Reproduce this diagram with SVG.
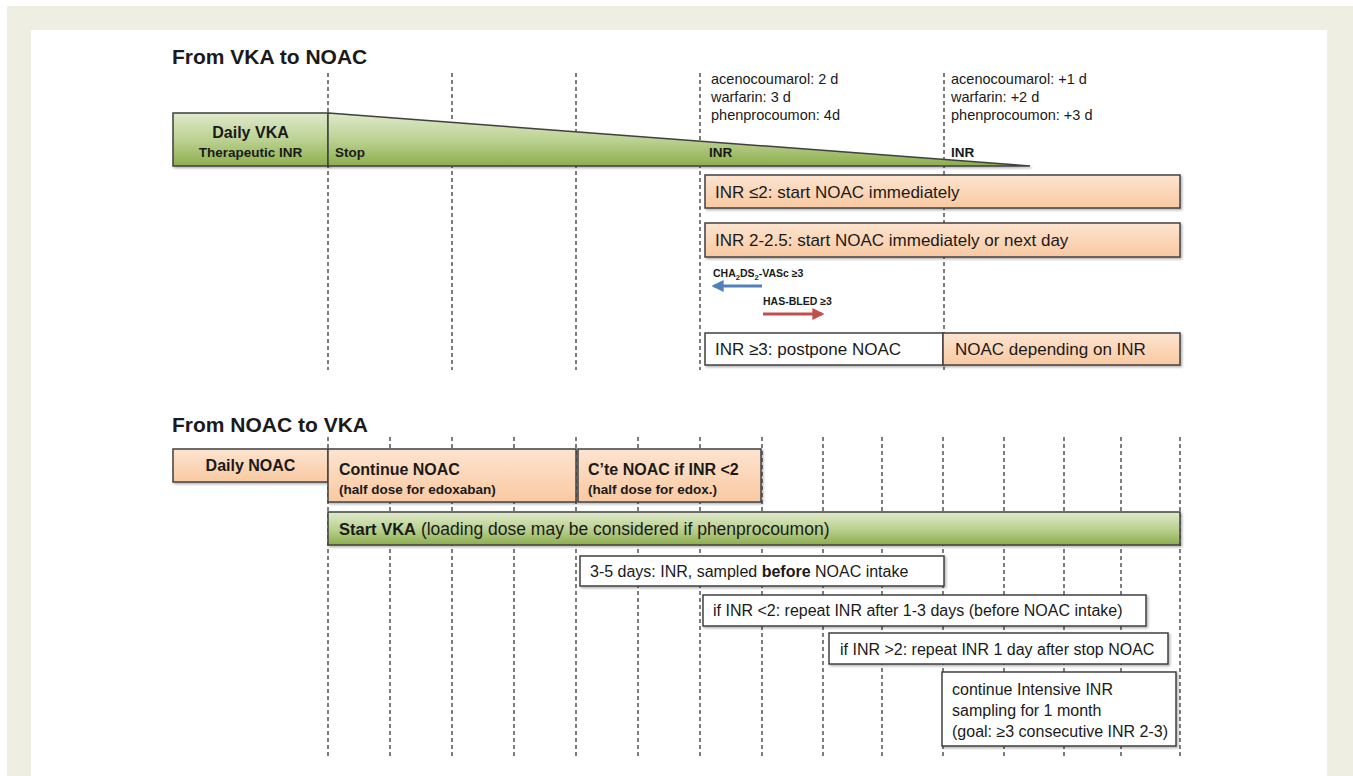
<svg xmlns="http://www.w3.org/2000/svg" width="1353" height="776" viewBox="0 0 1353 776">
<style>
.grid{stroke:#3a3a3a;stroke-width:1.3;stroke-dasharray:4 3;fill:none}
.box{stroke:#404040;stroke-width:1.5}
.g{fill:url(#green)}
.o{fill:url(#orange)}
.w{fill:#ffffff}
text{font-family:"Liberation Sans",Arial,sans-serif;fill:#1a1a1a}
.title{font-size:21px;font-weight:bold}
.b16{font-size:16px;font-weight:bold}
.b13{font-size:13.5px;font-weight:bold}
.r14{font-size:14.5px}
.r17{font-size:17px}
.r16{font-size:16px}
.small{font-size:10.5px;font-weight:bold}
</style>
<defs>
<linearGradient id="green" x1="0" y1="0" x2="0" y2="1">
<stop offset="0" stop-color="#dfe9cb"/>
<stop offset="0.5" stop-color="#bcd293"/>
<stop offset="1" stop-color="#8cae4c"/>
</linearGradient>
<linearGradient id="orange" x1="0" y1="0" x2="0" y2="1">
<stop offset="0" stop-color="#fde4d0"/>
<stop offset="1" stop-color="#f9c9a1"/>
</linearGradient>
<filter id="sh" x="-5%" y="-20%" width="110%" height="150%">
<feDropShadow dx="1.5" dy="1.5" stdDeviation="1" flood-color="#000" flood-opacity="0.3"/>
</filter>
<marker id="arrBlue" viewBox="0 0 10 10" refX="8" refY="5" markerWidth="4" markerHeight="4" orient="auto" markerUnits="strokeWidth">
<path d="M0,0 L10,5 L0,10 z" fill="#4f81bd"/>
</marker>
<marker id="arrRed" viewBox="0 0 10 10" refX="8" refY="5" markerWidth="4" markerHeight="4" orient="auto" markerUnits="strokeWidth">
<path d="M0,0 L10,5 L0,10 z" fill="#c0504d"/>
</marker>
</defs>

<rect x="0" y="0" width="1353" height="776" fill="#ffffff"/>
<rect x="7" y="6" width="1346" height="770" fill="#eeeee2"/>
<rect x="31" y="30" width="1296" height="746" fill="#ffffff"/>

<g id="titles">
<text class="title" x="172" y="64">From VKA to NOAC</text>
<text class="title" x="172" y="432">From NOAC to VKA</text>
</g>

<g id="gridlines">
<line class="grid" x1="328" y1="73" x2="328" y2="370"/>
<line class="grid" x1="452" y1="73" x2="452" y2="370"/>
<line class="grid" x1="576" y1="73" x2="576" y2="370"/>
<line class="grid" x1="700" y1="73" x2="700" y2="370"/>
<line class="grid" x1="944" y1="73" x2="944" y2="370"/>

<line class="grid" x1="328" y1="437" x2="328" y2="757"/>
<line class="grid" x1="390" y1="437" x2="390" y2="757"/>
<line class="grid" x1="452" y1="437" x2="452" y2="757"/>
<line class="grid" x1="514" y1="437" x2="514" y2="757"/>
<line class="grid" x1="576" y1="437" x2="576" y2="757"/>
<line class="grid" x1="638" y1="437" x2="638" y2="757"/>
<line class="grid" x1="700" y1="437" x2="700" y2="757"/>
<line class="grid" x1="762" y1="437" x2="762" y2="757"/>
<line class="grid" x1="823" y1="437" x2="823" y2="757"/>
<line class="grid" x1="882" y1="437" x2="882" y2="757"/>
<line class="grid" x1="943" y1="437" x2="943" y2="757"/>
<line class="grid" x1="1004" y1="437" x2="1004" y2="757"/>
<line class="grid" x1="1064" y1="437" x2="1064" y2="757"/>
<line class="grid" x1="1121" y1="437" x2="1121" y2="757"/>
<line class="grid" x1="1180" y1="437" x2="1180" y2="757"/>
</g>

<g id="dose-labels">
<text class="r14" x="711" y="84">acenocoumarol: 2 d</text>
<text class="r14" x="711" y="102">warfarin: 3 d</text>
<text class="r14" x="711" y="120">phenprocoumon: 4d</text>
<text class="r14" x="951" y="84">acenocoumarol: +1 d</text>
<text class="r14" x="951" y="102">warfarin: +2 d</text>
<text class="r14" x="951" y="120">phenprocoumon: +3 d</text>
</g>

<g id="daily-vka">
<rect class="box g" x="173" y="113" width="155" height="53" filter="url(#sh)"/>
<text class="b16" x="250.5" y="138" text-anchor="middle">Daily VKA</text>
<text class="b13" x="250.5" y="157" text-anchor="middle">Therapeutic INR</text>
</g>

<g id="vka-wedge">
<polygon class="box g" points="328,113 1030,166 328,166" filter="url(#sh)"/>
<text class="b13" x="335" y="157">Stop</text>
<text class="b13" x="709" y="157">INR</text>
<text class="b13" x="951" y="157">INR</text>
</g>

<g id="inr-le2">
<rect class="box o" x="705" y="175" width="475" height="33" filter="url(#sh)"/>
<text class="r17" x="715" y="198">INR ≤2: start NOAC immediately</text>
</g>

<g id="inr-2-25">
<rect class="box o" x="705" y="223" width="475" height="34" filter="url(#sh)"/>
<text class="r17" x="715" y="246">INR 2-2.5: start NOAC immediately or next day</text>
</g>

<g id="score-labels">
<text class="small" x="713" y="277">CHA<tspan font-size="7.5" dy="3">2</tspan><tspan dy="-3">DS</tspan><tspan font-size="7.5" dy="3">2</tspan><tspan dy="-3">-VASc ≥3</tspan></text>
<text class="small" x="763" y="305">HAS-BLED ≥3</text>
</g>

<g id="connectors">
<line x1="762" y1="286" x2="714" y2="286" stroke="#4f81bd" stroke-width="3" marker-end="url(#arrBlue)"/>
<line x1="763" y1="314" x2="822" y2="314" stroke="#c0504d" stroke-width="3" marker-end="url(#arrRed)"/>
</g>

<g id="inr-ge3">
<rect class="box w" x="705" y="333" width="238" height="32" filter="url(#sh)"/>
<text class="r17" x="715" y="355">INR ≥3: postpone NOAC</text>
</g>

<g id="noac-depending">
<rect class="box o" x="943" y="333" width="237" height="32" filter="url(#sh)"/>
<text class="r17" x="955" y="355">NOAC depending on INR</text>
</g>

<g id="daily-noac">
<rect class="box o" x="173" y="449" width="155" height="33" filter="url(#sh)"/>
<text class="b16" x="250.5" y="471" text-anchor="middle">Daily NOAC</text>
</g>

<g id="continue-noac">
<rect class="box o" x="328" y="449" width="248" height="53" filter="url(#sh)"/>
<text class="b16" x="339" y="475">Continue NOAC</text>
<text class="b13" x="339" y="494">(half dose for edoxaban)</text>
</g>

<g id="cte-noac">
<rect class="box o" x="578" y="449" width="183" height="53" filter="url(#sh)"/>
<text class="b16" x="588" y="475">C’te NOAC if INR &lt;2</text>
<text class="b13" x="588" y="494">(half dose for edox.)</text>
</g>

<g id="start-vka">
<rect class="box g" x="328" y="512" width="852" height="33" filter="url(#sh)"/>
<text x="339" y="535" font-size="17.5"><tspan font-weight="bold" font-size="16.5">Start VKA</tspan> (loading dose may be considered if phenprocoumon)</text>
</g>

<g id="inr-3-5-days">
<rect class="box w" x="580" y="556" width="364" height="30" filter="url(#sh)"/>
<text class="r16" x="590" y="577">3-5 days: INR, sampled <tspan font-weight="bold">before</tspan> NOAC intake</text>
</g>

<g id="inr-lt2">
<rect class="box w" x="703" y="595" width="443" height="31" filter="url(#sh)"/>
<text class="r16" x="713" y="616">if INR &lt;2: repeat INR after 1-3 days (before NOAC intake)</text>
</g>

<g id="inr-gt2">
<rect class="box w" x="829" y="633" width="339" height="31" filter="url(#sh)"/>
<text class="r16" x="840" y="655">if INR &gt;2: repeat INR 1 day after stop NOAC</text>
</g>

<g id="continue-sampling">
<rect class="box w" x="942" y="672" width="234" height="74" filter="url(#sh)"/>
<text class="r16" x="952" y="695">continue Intensive INR</text>
<text class="r16" x="952" y="716">sampling for 1 month</text>
<text class="r16" x="952" y="737">(goal: ≥3 consecutive INR 2-3)</text>
</g>
</svg>
